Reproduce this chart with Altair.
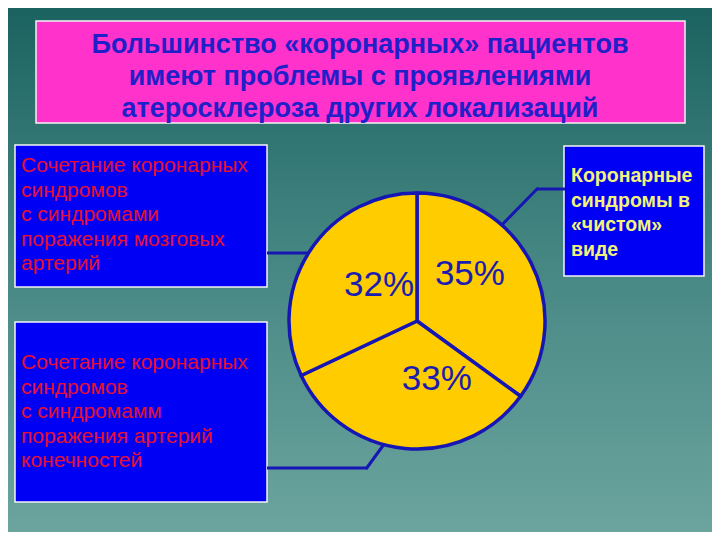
import altair as alt
import pandas as pd

# ---- data ----
categories = ["Коронарные синдромы в «чистом» виде",
              "Сочетание с поражением артерий конечностей",
              "Сочетание с поражением мозговых артерий"]
values = [35, 33, 32]
labels = ["35%", "33%", "32%"]
order = [1, 2, 3]

title_lines = ["Большинство «коронарных» пациентов",
               "имеют проблемы с проявлениями",
               "атеросклероза других локализаций"]
box_brain = ["Сочетание коронарных", "синдромов", "с синдромами",
             "поражения мозговых", "артерий"]
box_limbs = ["Сочетание коронарных", "синдромов", "с синдромамм",
             "поражения артерий", "конечностей"]
box_pure = ["Коронарные", "синдромы в", "«чистом»", "виде"]

pie_df = pd.DataFrame({"cat": categories, "value": values,
                       "label": labels, "ord": order})

W, H = 704, 524
O = 8  # page margin: reference pixel -> chart pixel


def px(v):
    return alt.value(v - O)


one = alt.Data(values=[{"k": 0}])

BLUE_LINE = "#1616b4"

bg = alt.Chart(one).mark_rect(
    color=alt.LinearGradient(
        gradient="linear",
        stops=[alt.GradientStop(offset=0, color="#1a625f"),
               alt.GradientStop(offset=0.5, color="#478884"),
               alt.GradientStop(offset=1, color="#6da59f")],
        x1=0, x2=0, y1=0, y2=1)
).encode(x=alt.value(-O), x2=alt.value(W + O), y=alt.value(-O), y2=alt.value(H + O))


def box(x0, y0, x1, y1, fill):
    return alt.Chart(one).mark_rect(fill=fill, stroke="#f4f4f4", strokeWidth=1.5).encode(
        x=px(x0), x2=px(x1), y=px(y0), y2=px(y1))


def rule(x0, y0, x1, y1):
    return alt.Chart(one).mark_rule(color=BLUE_LINE, strokeWidth=3).encode(
        x=px(x0), y=px(y0), x2=px(x1), y2=px(y1))


title_box = box(36, 21, 685, 123, "#ff33cc")
title_text = alt.Chart(one).mark_text(
    text=title_lines, font="Liberation Sans", fontSize=27, fontWeight="bold",
    color="#2020c8", align="center", baseline="middle", lineHeight=32
).encode(x=px(360), y=px(45))

box1 = box(15, 145, 267, 287, "#0000f4")
box2 = box(15, 322, 267, 502, "#0000f4")
box3 = box(564, 146, 704, 276, "#0000f4")


def left_text(lines, y0):
    return alt.Chart(one).mark_text(
        text=lines, font="Liberation Sans", fontSize=21, color="#e8102e",
        align="left", baseline="middle", lineHeight=24.6
    ).encode(x=px(21), y=px(y0))


t1 = left_text(box_brain, 166)
t2 = left_text(box_limbs, 363)
t3 = alt.Chart(one).mark_text(
    text=box_pure, font="Liberation Sans", fontSize=19.5, fontWeight="bold",
    color="#f2f27a", align="left", baseline="middle", lineHeight=24.5
).encode(x=px(571), y=px(176))

lines = (rule(267, 253, 330, 253) + rule(267, 468, 367, 468) + rule(366, 469, 390, 436)
         + rule(565, 189, 537, 189) + rule(538, 188, 495, 232))

CX, CY, R = 417, 321, 128

pie = alt.Chart(pie_df).mark_arc(
    radius=R, fill="#ffcc00", stroke=BLUE_LINE, strokeWidth=3.5
).encode(
    theta=alt.Theta("value:Q", stack=True),
    order=alt.Order("ord:Q"),
    detail="cat:N",
    x=px(CX), y=px(CY)
)


def pie_label(lbl, dx, dy):
    return alt.Chart(pie_df).mark_text(
        radius=65, fontSize=35, font="Liberation Sans", color="#1c1cb0",
        dx=dx, dy=dy, align="center", baseline="middle"
    ).encode(
        theta=alt.Theta("value:Q", stack=True),
        order=alt.Order("ord:Q"),
        detail="cat:N",
        text=alt.condition(alt.datum.label == lbl, "label:N", alt.value("")),
        x=px(CX), y=px(CY)
    )


labels_layer = pie_label("35%", -5, -17) + pie_label("33%", 26, -7) + pie_label("32%", 17, -1)

chart = alt.layer(
    bg, title_box, title_text, box1, box2, box3, t1, t2, t3, lines, pie, labels_layer
).properties(
    width=W, height=H, padding=0, autosize=alt.AutoSizeParams(type="none")
).configure_view(stroke=None)

chart.save("out.html", embed_options={"renderer": "svg", "actions": False})
